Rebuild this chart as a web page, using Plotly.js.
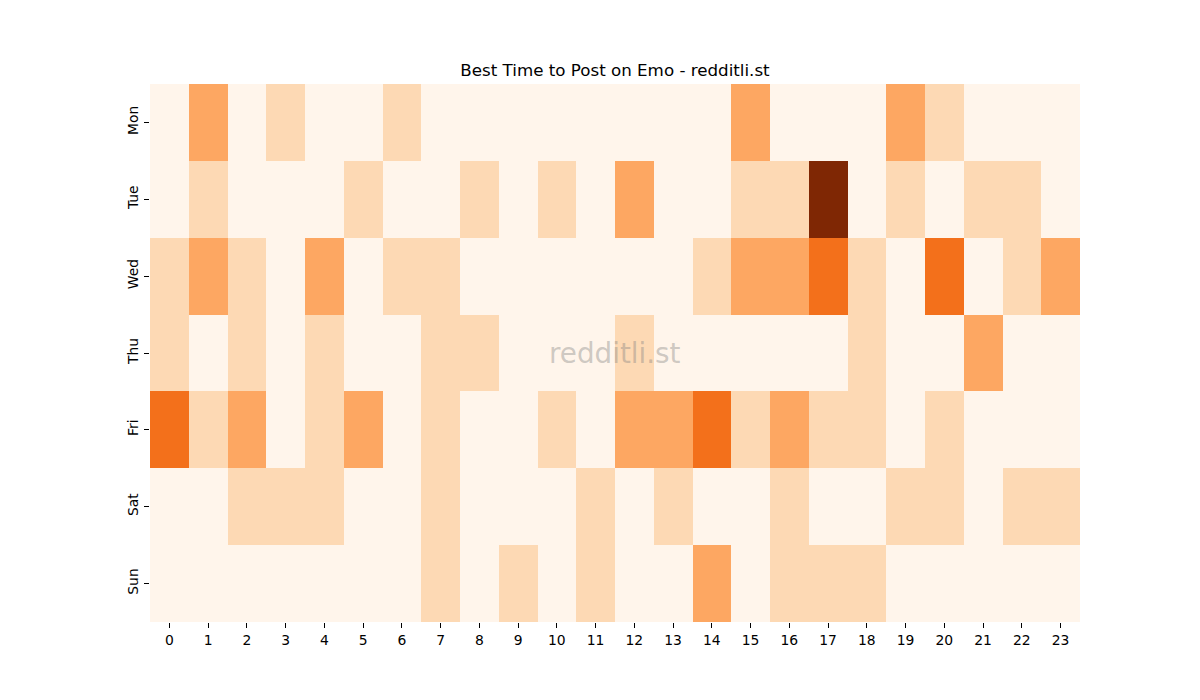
<!DOCTYPE html>
<html>
<head>
<meta charset="utf-8">
<script src="https://cdn.plot.ly/plotly-3.0.1.min.js"></script>
<style>
  html, body { margin: 0; padding: 0; background: #fff; }
  #chart { width: 1200px; height: 700px; }
</style>
</head>
<body>
<div id="chart"></div>
<script>
// hours along x, days down y
let hours = [0,1,2,3,4,5,6,7,8,9,10,11,12,13,14,15,16,17,18,19,20,21,22,23]
let days = ["Mon", "Tue", "Wed", "Thu", "Fri", "Sat", "Sun"]

// activity level per day
let mon = [0,2,0,1,0,0,1,0,0,0,0,0,0,0,0,2,0,0,0,2,1,0,0,0]
let tue = [0,1,0,0,0,1,0,0,1,0,1,0,2,0,0,1,1,4,0,1,0,1,1,0]
let wed = [1,2,1,0,2,0,1,1,0,0,0,0,0,0,1,2,2,3,1,0,3,0,1,2]
let thu = [1,0,1,0,1,0,0,1,1,0,0,0,1,0,0,0,0,0,1,0,0,2,0,0]
let fri = [3,1,2,0,1,2,0,1,0,0,1,0,2,2,3,1,2,1,1,0,1,0,0,0]
let sat = [0,0,1,1,1,0,0,1,0,0,0,1,0,1,0,0,1,0,0,1,1,0,1,1]
let sun = [0,0,0,0,0,0,0,1,0,1,0,1,0,0,2,0,1,1,1,0,0,0,0,0]

let oranges = [
  [0, '#fff5eb'],
  [0.25, '#fdd9b4'],
  [0.5, '#fda762'],
  [0.75, '#f3701b'],
  [1, '#7f2704']
]

let trace = {
  type: 'heatmap',
  x: hours,
  y: days,
  z: [mon, tue, wed, thu, fri, sat, sun],
  colorscale: oranges,
  zmin: 0,
  zmax: 4,
  showscale: false,
  xgap: 0,
  ygap: 0
}

let layout = {
  width: 1200,
  height: 700,
  margin: { l: 150, r: 120, t: 84, b: 78 },
  paper_bgcolor: '#ffffff',
  plot_bgcolor: '#ffffff',
  font: { family: 'DejaVu Sans, sans-serif', size: 13.9, color: '#000' },
  title: {
    text: 'Best Time to Post on Emo - redditli.st',
    font: { family: 'DejaVu Sans, sans-serif', size: 16.7, color: '#000' },
    x: 0.5,
    xref: 'paper',
    y: 1 - 70 / 700,
    yanchor: 'middle'
  },
  xaxis: {
    tickmode: 'array',
    tickvals: hours,
    ticktext: hours.map(String),
    ticks: 'outside',
    ticklen: 5,
    tickcolor: '#000',
    showgrid: false,
    zeroline: false,
    showline: false,
    range: [-0.5, 23.5],
    tickfont: { size: 13.9 }
  },
  yaxis: {
    autorange: 'reversed',
    ticks: 'outside',
    ticklen: 5,
    tickcolor: '#000',
    tickangle: -90,
    showgrid: false,
    zeroline: false,
    showline: false,
    tickfont: { size: 13.9 }
  },
  annotations: [{
    text: 'redditli.st',
    xref: 'paper',
    yref: 'paper',
    x: 0.5,
    y: 0.5,
    showarrow: false,
    font: { family: 'DejaVu Sans, sans-serif', size: 27.8, color: 'rgba(128,128,128,0.4)' }
  }]
}

Plotly.newPlot('chart', [trace], layout, { displayModeBar: false, staticPlot: true })
</script>
</body>
</html>
